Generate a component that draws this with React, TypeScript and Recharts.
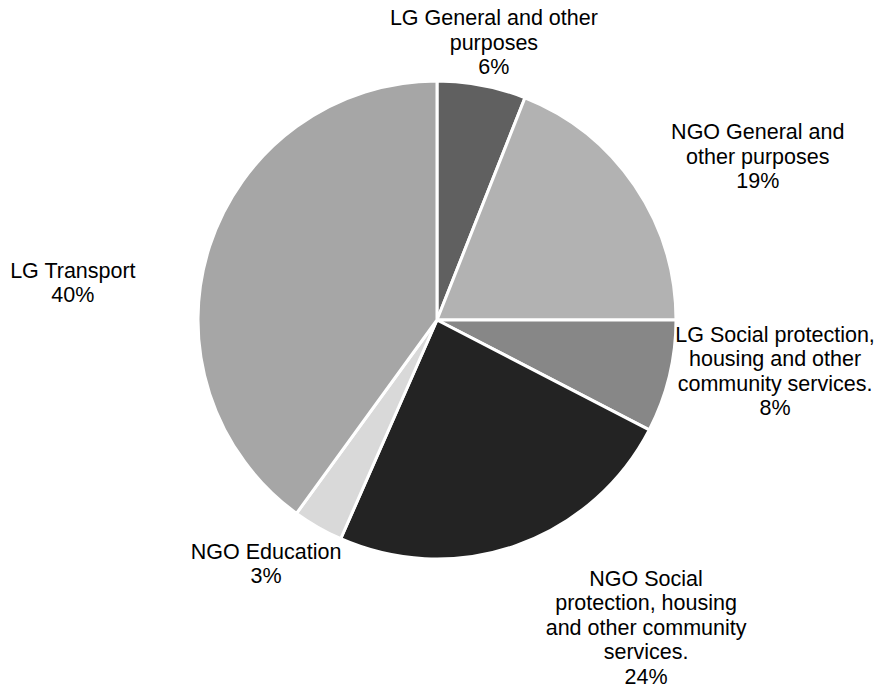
import { PieChart, Pie, Cell } from "recharts";

const categories = [
  "LG General and other purposes",
  "NGO General and other purposes",
  "LG Social protection, housing and other community services.",
  "NGO Social protection, housing and other community services.",
  "NGO Education",
  "LG Transport",
];

const shares = [6.0, 19.0, 7.6, 24.0, 3.4, 40.0];

// wrapped label text, one array per category
const labelLines = [
  ["LG General and other", "purposes"],
  ["NGO General and", "other purposes"],
  ["LG Social protection,", "housing and other", "community services."],
  ["NGO Social", "protection, housing", "and other community", "services."],
  ["NGO Education"],
  ["LG Transport"],
];

const colors = ["#606060", "#b2b2b2", "#878787", "#232323", "#d9d9d9", "#a6a6a6"];

// label block centre: angle clockwise from 12 o'clock, distance from pie centre
const labelAngle = [11.6, 63, 98.7, 145.8, 215, 275.8];
const labelDist = [283, 360, 342, 372, 298, 366];

const data = categories.map((name, i) => ({ name, value: shares[i] }));

const LINE_H = 24.5;

function renderLabel(props: any) {
  const { cx, cy, index, percent } = props;
  const a = (labelAngle[index] * Math.PI) / 180;
  const x = cx + labelDist[index] * Math.sin(a);
  const y = cy - labelDist[index] * Math.cos(a);
  const lines = [...labelLines[index], `${Math.round(percent * 100)}%`];
  const top = y - ((lines.length - 1) * LINE_H) / 2;
  return (
    <text
      x={x}
      y={top}
      textAnchor="middle"
      fill="#000"
      fontSize={21.5}
      fontFamily="'Liberation Sans', Arial, sans-serif"
    >
      {lines.map((l, i) => (
        <tspan key={i} x={x} y={top + i * LINE_H} dominantBaseline="central">
          {l}
        </tspan>
      ))}
    </text>
  );
}

export default function App() {
  return (
    <div style={{ width: 877, height: 688, background: "#fff" }}>
      <style>{"body{margin:0}"}</style>
      <PieChart width={877} height={688} margin={{ top: 0, right: 0, bottom: 0, left: 0 }}>
        <Pie
          data={data}
          dataKey="value"
          nameKey="name"
          cx={437}
          cy={320}
          outerRadius={239}
          startAngle={90}
          endAngle={-270}
          stroke="#fff"
          strokeWidth={3}
          label={renderLabel}
          labelLine={false}
          isAnimationActive={false}
        >
          {data.map((d, i) => (
            <Cell key={d.name} fill={colors[i]} />
          ))}
        </Pie>
      </PieChart>
    </div>
  );
}
